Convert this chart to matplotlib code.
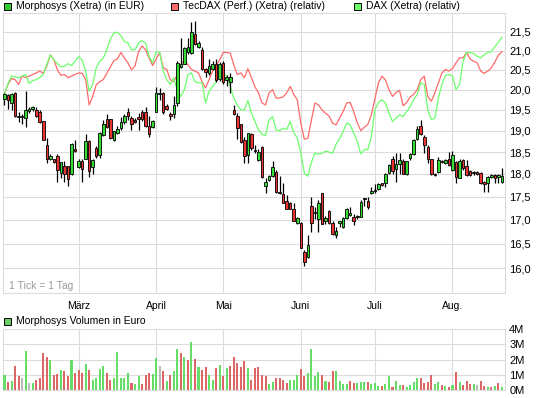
import numpy as np
import matplotlib
matplotlib.use("Agg")
import matplotlib.pyplot as plt
from matplotlib.patches import Rectangle
from matplotlib.ticker import FixedLocator, FuncFormatter, NullLocator

plt.rcParams['font.family'] = ['Liberation Sans', 'DejaVu Sans']

# Morphosys (Xetra), one entry per trading day, EUR
opens = [19.77, 19.87, 19.67, 19.92, 19.33, 19.34, 19.30, 19.48, 19.51, 19.50,
         19.44, 19.22, 18.67, 18.33, 18.33, 18.40, 18.02, 18.17, 18.17, 18.00,
         18.55, 18.16, 18.29, 18.35, 18.76, 18.16, 18.60, 18.43, 18.90, 19.27,
         19.27, 18.79, 18.94, 19.06, 19.21, 19.44, 19.31, 19.26, 19.30, 19.44,
         19.44, 19.10, 19.08, 19.44, 19.88, 19.92, 19.60, 19.40, 19.40, 19.67,
         20.57, 20.66, 20.95, 20.93, 21.45, 21.10, 21.02, 20.51, 20.42, 20.53,
         20.65, 20.27, 20.68, 20.23, 20.18, 19.50, 19.35, 19.15, 18.77, 18.43,
         18.92, 18.52, 18.32, 18.62, 17.74, 17.86, 17.96, 18.05, 17.59, 17.55,
         17.41, 17.35, 17.24, 16.94, 16.93, 16.33, 16.22, 17.30, 17.14, 17.01,
         17.57, 16.97, 17.19, 16.94, 16.67, 16.94, 16.84, 17.04, 17.11, 17.06,
         17.06, 17.06, 17.45, 17.40, 17.57, 17.62, 17.67, 17.78, 17.80, 18.02,
         18.33, 18.12, 18.22, 18.29, 18.00, 18.37, 18.45, 18.80, 19.11, 18.86,
         18.61, 18.33, 17.99, 18.04, 18.28, 18.25, 18.35, 18.08, 18.28, 17.92,
         18.31, 18.17, 18.06, 18.02, 18.04, 18.02, 17.82, 17.80, 17.94, 17.97,
         17.94, 17.81]
highs = [19.92, 19.88, 19.92, 19.93, 19.44, 19.41, 19.97, 19.56, 19.60, 19.58,
         19.50, 19.23, 18.82, 18.45, 18.35, 18.45, 18.28, 18.30, 18.18, 18.71,
         18.77, 18.33, 18.33, 18.92, 18.78, 18.33, 18.64, 18.97, 19.26, 19.39,
         19.27, 19.00, 19.10, 19.33, 19.40, 19.54, 19.35, 19.30, 19.42, 19.50,
         19.58, 19.34, 19.26, 20.06, 20.03, 19.95, 19.65, 19.45, 19.85, 20.72,
         21.32, 21.10, 21.33, 21.75, 21.80, 21.25, 21.08, 20.55, 20.78, 20.72,
         20.78, 20.69, 20.72, 20.37, 20.42, 19.62, 19.42, 19.17, 18.86, 18.95,
         18.95, 18.67, 18.56, 18.64, 17.91, 17.98, 18.29, 18.10, 17.95, 17.80,
         17.54, 17.39, 17.35, 17.06, 16.95, 16.38, 16.67, 17.50, 17.28, 17.42,
         17.58, 17.09, 17.21, 16.97, 16.85, 16.98, 17.06, 17.25, 17.28, 17.12,
         17.10, 17.42, 17.47, 17.48, 17.72, 17.78, 17.80, 17.80, 18.02, 18.23,
         18.41, 18.48, 18.48, 18.34, 18.30, 18.48, 18.80, 19.10, 19.26, 18.90,
         18.67, 18.35, 18.03, 18.38, 18.31, 18.34, 18.50, 18.53, 18.30, 18.33,
         18.33, 18.32, 18.08, 18.06, 18.06, 18.04, 17.85, 17.95, 18.00, 18.00,
         18.00, 18.14]
lows = [19.62, 19.52, 19.50, 19.32, 19.20, 19.16, 19.08, 19.42, 19.48, 19.33,
        19.18, 18.78, 18.25, 18.31, 18.25, 17.82, 17.91, 17.82, 17.73, 17.98,
        18.50, 18.14, 17.82, 18.33, 17.93, 18.00, 18.37, 18.37, 18.88, 19.06,
        18.81, 18.76, 18.92, 19.02, 19.17, 19.26, 19.02, 19.18, 19.02, 19.22,
        19.08, 18.84, 19.06, 19.44, 19.75, 19.40, 19.50, 19.25, 19.30, 19.60,
        20.55, 20.64, 20.90, 20.90, 21.15, 21.07, 20.50, 20.33, 20.38, 20.50,
        20.20, 20.22, 20.15, 20.08, 19.92, 19.38, 18.80, 18.70, 18.25, 18.25,
        18.55, 18.47, 18.30, 17.91, 17.58, 17.85, 17.94, 17.58, 17.55, 17.35,
        17.22, 17.22, 16.97, 16.92, 16.42, 16.05, 16.20, 16.75, 17.02, 16.75,
        16.90, 16.92, 16.92, 16.67, 16.62, 16.85, 16.82, 17.02, 17.08, 16.88,
        17.02, 17.06, 17.30, 17.24, 17.55, 17.58, 17.65, 17.74, 17.72, 18.00,
        17.99, 17.83, 17.99, 17.99, 17.98, 18.32, 18.43, 18.78, 18.90, 18.47,
        18.25, 17.98, 17.96, 18.02, 18.24, 18.22, 18.18, 18.06, 17.80, 17.90,
        18.10, 17.96, 17.96, 17.98, 17.98, 17.78, 17.60, 17.60, 17.90, 17.80,
        17.80, 17.80]
closes = [19.89, 19.75, 19.89, 19.34, 19.34, 19.33, 19.50, 19.50, 19.57, 19.35,
          19.20, 18.79, 18.35, 18.42, 18.28, 18.08, 18.27, 18.01, 17.89, 18.69,
          18.53, 18.29, 18.12, 18.75, 18.06, 18.32, 18.41, 18.94, 19.15, 19.08,
          18.83, 18.99, 19.04, 19.20, 19.36, 19.36, 19.15, 19.21, 19.29, 19.27,
          19.10, 18.93, 19.23, 19.92, 19.92, 19.44, 19.52, 19.35, 19.62, 20.68,
          20.66, 21.06, 21.08, 21.48, 21.17, 21.20, 20.53, 20.45, 20.59, 20.64,
          20.25, 20.65, 20.18, 20.33, 20.33, 19.40, 19.07, 18.73, 18.41, 18.95,
          18.60, 18.53, 18.50, 17.93, 17.82, 17.96, 18.16, 17.61, 17.57, 17.36,
          17.24, 17.24, 16.97, 17.04, 16.42, 16.13, 16.48, 16.94, 17.15, 17.35,
          16.92, 17.04, 16.94, 16.71, 16.77, 16.95, 17.04, 17.22, 17.15, 16.97,
          17.07, 17.38, 17.44, 17.28, 17.62, 17.64, 17.78, 17.76, 18.00, 18.21,
          18.06, 18.22, 18.32, 18.01, 18.29, 18.45, 18.77, 19.04, 18.92, 18.67,
          18.33, 17.99, 17.98, 18.31, 18.27, 18.31, 18.20, 18.43, 17.93, 18.30,
          18.14, 17.98, 17.98, 18.03, 18.01, 17.80, 17.78, 17.93, 17.96, 17.92,
          17.95, 17.95]

# TecDAX and DAX, relative to Morphosys start
tecdax_rel = [19.90, 20.13, 20.28, 20.25, 20.13, 20.34, 20.30, 20.34, 20.38, 20.42,
              20.47, 20.41, 20.60, 20.89, 20.76, 20.50, 20.36, 20.38, 20.30, 20.34,
              20.38, 20.42, 20.41, 20.26, 19.62, 19.83, 20.12, 20.20, 20.25, 20.41,
              20.57, 20.74, 20.78, 20.95, 20.80, 20.68, 20.50, 20.60, 20.97, 21.12,
              21.02, 20.80, 20.61, 20.78, 20.95, 20.55, 20.51, 20.25, 20.20, 20.38,
              20.63, 20.76, 20.63, 20.51, 20.47, 20.42, 20.20, 20.04, 20.25, 20.47,
              20.60, 20.76, 20.95, 20.95, 20.93, 20.63, 20.38, 20.42, 20.30, 20.53,
              20.30, 20.07, 19.92, 19.67, 19.62, 19.92, 20.00, 19.79, 19.79, 19.82,
              19.92, 20.08, 19.88, 19.75, 19.18, 18.80, 18.82, 19.25, 19.67, 19.62,
              19.50, 19.42, 19.35, 19.18, 19.14, 19.30, 19.46, 19.67, 19.68, 19.46,
              19.19, 19.00, 19.08, 19.15, 19.38, 19.77, 20.17, 20.34, 20.24, 20.00,
              19.83, 19.93, 19.98, 19.60, 19.68, 19.82, 19.88, 20.00, 20.25, 20.34,
              19.83, 19.71, 19.92, 20.17, 20.42, 20.51, 20.47, 20.53, 20.68, 20.81,
              20.81, 20.95, 20.78, 20.72, 20.68, 20.47, 20.41, 20.47, 20.55, 20.70,
              20.88, 20.97]
dax_rel = [19.90, 20.15, 20.34, 20.32, 20.30, 20.34, 20.38, 20.15, 20.23, 20.25,
           20.30, 20.38, 20.64, 20.89, 20.76, 20.66, 20.58, 20.59, 20.66, 20.61,
           20.72, 20.84, 20.76, 20.47, 19.96, 20.13, 20.55, 20.72, 20.80, 21.02,
           21.30, 21.46, 21.49, 21.39, 21.24, 21.20, 21.02, 21.02, 21.20, 21.26,
           21.20, 20.84, 20.68, 20.97, 20.95, 20.47, 20.25, 20.13, 20.30, 19.96,
           19.83, 20.00, 20.38, 20.42, 20.20, 20.17, 20.17, 19.67, 19.96, 20.08,
           20.20, 20.38, 20.42, 20.34, 20.08, 19.79, 19.62, 19.50, 19.50, 19.73,
           19.42, 19.22, 19.02, 18.92, 18.88, 19.26, 19.34, 19.02, 19.00, 19.06,
           19.03, 19.22, 18.95, 18.83, 18.48, 18.02, 17.95, 18.26, 18.48, 18.45,
           18.47, 18.52, 18.50, 18.47, 18.68, 18.81, 18.98, 19.18, 19.14, 18.94,
           18.75, 18.46, 18.55, 18.56, 18.86, 19.50, 19.68, 19.75, 19.67, 19.42,
           19.22, 19.30, 19.38, 19.34, 19.46, 19.58, 19.75, 19.88, 20.17, 20.13,
           19.50, 19.26, 19.30, 19.79, 20.13, 20.36, 20.38, 20.34, 20.00, 20.13,
           20.72, 20.95, 20.95, 20.92, 20.85, 20.81, 20.89, 20.95, 20.97, 21.10,
           21.22, 21.35]

# Volume in million EUR and direction vs previous close (1 up, -1 down, 0 flat)
volume_m = [0.96, 0.56, 0.62, 1.56, 0.89, 0.82, 2.56, 0.44, 0.44, 0.69,
            0.82, 2.42, 2.16, 1.96, 0.98, 1.04, 1.29, 1.22, 0.89, 1.96,
            1.09, 1.29, 1.09, 1.69, 1.29, 0.69, 0.76, 1.36, 1.56, 1.09,
            0.69, 0.82, 2.49, 0.82, 0.76, 1.09, 0.49, 0.42, 0.89, 0.42,
            0.96, 1.09, 1.04, 2.09, 1.56, 1.22, 0.62, 0.96, 1.22, 2.69,
            2.42, 2.16, 1.96, 3.16, 2.02, 1.49, 1.29, 1.49, 0.96, 0.69,
            1.42, 1.62, 0.89, 1.42, 1.56, 2.16, 1.76, 1.49, 1.89, 1.42,
            0.69, 1.42, 1.49, 1.02, 0.89, 0.42, 0.56, 0.76, 0.82, 0.69,
            0.49, 0.69, 0.69, 1.02, 1.36, 0.89, 1.09, 2.69, 0.89, 1.16,
            0.96, 0.62, 0.56, 1.22, 1.22, 0.62, 0.42, 0.42, 0.62, 0.49,
            0.49, 0.56, 0.56, 0.56, 0.42, 0.49, 0.29, 0.29, 0.42, 0.89,
            0.22, 0.62, 0.36, 0.36, 0.22, 0.36, 0.56, 0.76, 0.76, 0.49,
            0.56, 0.96, 0.42, 0.56, 0.36, 0.29, 0.22, 0.36, 1.16, 0.56,
            0.36, 0.62, 0.42, 0.42, 0.36, 0.62, 0.29, 0.22, 0.22, 0.29,
            0.49, 0.22]
volume_dir = [1, -1, 1, -1, -1, 0, 1, 0, 1, -1,
              -1, -1, -1, 1, -1, -1, 1, -1, -1, 1,
              -1, -1, -1, 1, -1, 1, 1, 1, 1, -1,
              -1, 1, 1, 1, 1, 1, -1, 1, 1, -1,
              -1, -1, 1, 1, 0, -1, 1, -1, 1, 1,
              -1, 1, -1, 1, -1, 1, -1, -1, 1, 1,
              -1, 1, -1, 1, -1, -1, -1, -1, -1, 1,
              -1, -1, -1, -1, -1, 1, 1, -1, -1, -1,
              -1, 1, 1, 1, -1, -1, 1, 1, 1, 1,
              -1, 1, -1, -1, 1, 1, 1, 1, -1, -1,
              1, 1, 1, -1, 1, 1, 1, -1, 1, 1,
              -1, 1, 1, -1, 1, 1, 1, 1, -1, -1,
              -1, -1, 1, 1, -1, 1, -1, 1, -1, 1,
              -1, -1, -1, 1, 0, -1, -1, 1, -1, 1,
              -1, 1]

month_labels = ["März", "April", "Mai", "Juni", "Juli", "Aug."]
month_start = [21, 43, 62, 84, 105, 127]
price_ticks = [16.0, 16.5, 17.0, 17.5, 18.0, 18.5, 19.0, 19.5, 20.0, 20.5, 21.0, 21.5]
vol_ticks = [0, 1, 2, 3, 4]

GRID = '#dcdcdc'
C_UP = '#33dd33'
C_DOWN = '#ee3333'

fig = plt.figure(figsize=(5.45, 3.98), dpi=100)
ax = fig.add_axes([0.005, 0.2646, 0.9217, 0.702])
axv = fig.add_axes([0.005, 0.0201, 0.9217, 0.1525], sharex=ax)

x = np.arange(len(closes))
o = np.array(opens)
c = np.array(closes)
up = c >= o

ax.plot(x, tecdax_rel, color='#ff6a6a', lw=0.9, zorder=2)
ax.plot(x, dax_rel, color='#6cff6c', lw=0.9, zorder=2)
ax.vlines(x, lows, highs, color='black', lw=0.9, zorder=3)
body_lo = np.minimum(o, c)
body_h = np.maximum(np.abs(c - o), 0.03)
ax.bar(x, body_h, bottom=body_lo, width=0.72,
       color=np.where(up, C_UP, C_DOWN), edgecolor='black', linewidth=0.6, zorder=4)

ax.set_yscale('log')
ax.set_ylim(15.52, 22.0)
ax.set_xlim(-0.5, len(closes) - 0.1)
ax.yaxis.set_major_locator(FixedLocator(price_ticks))
ax.yaxis.set_minor_locator(NullLocator())
ax.yaxis.set_major_formatter(FuncFormatter(lambda v, p: f"{v:.1f}".replace('.', ',')))
ax.yaxis.tick_right()
ax.tick_params(axis='y', length=0, pad=3, labelsize=8)
ax.set_xticks(month_start)
ax.set_xticklabels(month_labels)
ax.tick_params(axis='x', length=0, pad=6, labelsize=7.5)
ax.grid(True, color=GRID, lw=0.8, zorder=0)
ax.set_axisbelow(True)
for s in ax.spines.values():
    s.set_color(GRID)
ax.text(0.012, 0.024, "1 Tick = 1 Tag", transform=ax.transAxes, color='#999999',
        fontsize=7.5, va='center', ha='left')

# volume panel
vol_col = ['#66dd66' if d > 0 else ('#dd6666' if d < 0 else '#bbbbbb') for d in volume_dir]
axv.bar(x, volume_m, width=0.58, color=vol_col, zorder=3)
axv.set_ylim(0, 4)
axv.yaxis.set_major_locator(FixedLocator(vol_ticks))
axv.yaxis.set_major_formatter(FuncFormatter(lambda v, p: f"{int(v)}M"))
axv.yaxis.tick_right()
axv.tick_params(axis='y', length=0, pad=3, labelsize=8)
axv.tick_params(axis='x', length=0, labelbottom=False)
axv.grid(True, color=GRID, lw=0.8, zorder=0)
axv.set_axisbelow(True)
for s in axv.spines.values():
    s.set_color(GRID)

# legends
def legend_item(xpx, ypx, color, label):
    fig.patches.append(Rectangle((xpx / 545, 1 - (ypx + 3.5) / 398), 7 / 545, 7 / 398,
                                 transform=fig.transFigure, facecolor=color,
                                 edgecolor='black', linewidth=0.7))
    fig.text((xpx + 12) / 545, 1 - ypx / 398, label, fontsize=7.5, va='center', ha='left')

legend_item(3.5, 6.3, '#33cc33', "Morphosys (Xetra) (in EUR)")
legend_item(171, 6.3, '#ff6a6a', "TecDAX (Perf.) (Xetra) (relativ)")
legend_item(354, 6.3, '#6cff6c', "DAX (Xetra) (relativ)")
legend_item(3.5, 321, '#66cc66', "Morphosys Volumen in Euro")

fig.savefig("out.png", dpi=100)
